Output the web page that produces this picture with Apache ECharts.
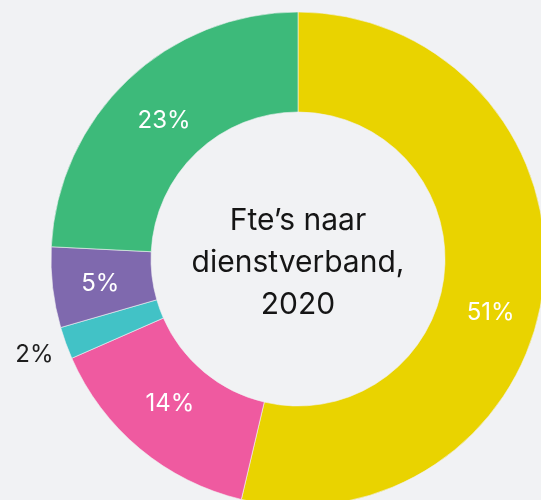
<!DOCTYPE html>
<html>
<head>
<meta charset="utf-8">
<script src="https://cdn.jsdelivr.net/npm/echarts@6/dist/echarts.min.js"></script>
<style>
  html, body { margin: 0; padding: 0; background: #f1f2f4; }
  #chart { width: 541px; height: 500px; }
</style>
</head>
<body>
<div id="chart"></div>
<script>
const categories = ['Categorie A', 'Categorie B', 'Categorie C', 'Categorie D', 'Categorie E'];
const values = [51, 14, 2, 5, 23];
const colors = ['#e9d300', '#ef5aa0', '#42c2c6', '#7f69ae', '#3dba7a'];
const centerTitle = 'Fte\u2019s naar\ndienstverband,\n2020';

const chart = echarts.init(document.getElementById('chart'), null, { renderer: 'canvas' });

const data = categories.map((c, i) => {
  const item = { name: c, value: values[i], itemStyle: { color: colors[i] } };
  if (values[i] < 3) {
    item.label = { position: 'outside', color: '#1e1e1e' };
    item.labelLine = { show: false, length: 12, length2: 4 };
  }
  return item;
});

const labelShift = { 0: [-6, 31], 1: [0, -9], 2: [8, 8], 3: [1, 2], 4: [4, 7] };

chart.setOption({
  backgroundColor: '#f1f2f4',
  animation: false,
  graphic: [{
    type: 'text',
    x: 298,
    y: 263,
    style: {
      text: centerTitle,
      align: 'center',
      verticalAlign: 'middle',
      font: '400 30px Inter',
      lineHeight: 42,
      fill: '#151515'
    }
  }],
  series: [{
    type: 'pie',
    center: [298, 259],
    radius: [147, 247],
    startAngle: 90,
    clockwise: true,
    avoidLabelOverlap: false,
    itemStyle: { borderColor: '#f1f2f4', borderWidth: 0.6 },
    label: {
      show: true,
      position: 'inside',
      formatter: '{c}%',
      color: '#ffffff',
      fontFamily: 'Inter',
      fontSize: 24,
      fontWeight: 400
    },
    labelLine: { show: false },
    labelLayout: function (p) {
      const s = labelShift[p.dataIndex];
      return s ? { dx: s[0], dy: s[1] } : {};
    },
    data: data
  }]
});
</script>
</body>
</html>
